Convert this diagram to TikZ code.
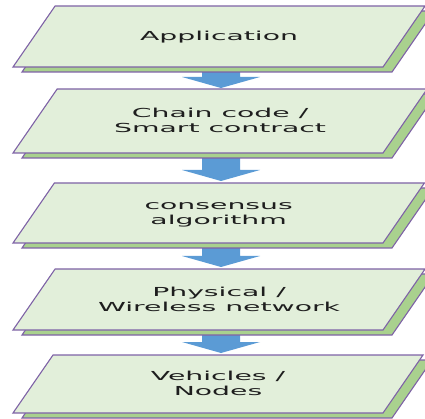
\documentclass[tikz,border=0pt]{standalone}
\usepackage{fontspec}
\setmainfont{DejaVu Sans}
\usepackage{graphicx}
\usetikzlibrary{calc}
\definecolor{facefill}{HTML}{E2EFDA}
\definecolor{edgepurple}{HTML}{7E62A6}
\definecolor{sidegreen}{HTML}{A9D18E}
\definecolor{arrowblue}{HTML}{5B9BD5}
\definecolor{txtgray}{HTML}{1E1E1E}
\tikzset{
  facebox/.style={draw=edgepurple, line width=1.1pt, fill=facefill, line join=miter},
  sidebox/.style={draw=edgepurple, line width=1.1pt, fill=sidegreen, line join=miter},
  blockarrow/.style={fill=arrowblue},
  lbl/.style={inner sep=0pt, text=txtgray}
}
\newcommand\stretchtext[1]{\scalebox{2.28}[1]{\fontsize{12.4}{15}\selectfont\begin{tabular}{@{}c@{}}#1\end{tabular}}}
% #1 name, #2 top y, #3 bottom y (image coordinates)
\newcommand\layerbox[3]{%
  \pgfmathsetmacro\lslant{0.69*(#3-#2)}%
  \draw[sidebox] (22,#3+5) -- (392,#3+5) -- (392+\lslant,#2+5) -- (22+\lslant,#2+5) -- cycle;
  \draw[facebox] (13,#3) -- (383,#3) -- (383+\lslant,#2) -- (13+\lslant,#2) -- cycle;
  \coordinate (#1) at (198+\lslant/2, {(#2+#3)/2});
}
% #1 start name, #2 end name
\newcommand\blockdown[2]{%
  \fill[blockarrow] ($(#1)+(-19,0)$) -- ($(#1)+(19,0)$) -- ($(#2)+(19,-11)$) -- ($(#2)+(39,-11)$)
     -- (#2) -- ($(#2)+(-39,-11)$) -- ($(#2)+(-19,-11)$) -- cycle;
}
\begin{document}
\begin{tikzpicture}[x=1pt,y=-1pt]
\useasboundingbox (0,0) rectangle (425,419);
\clip (0,0) rectangle (425,419);
% arrow end points
\coordinate (s1) at (221,70);  \coordinate (e1) at (221,88);
\coordinate (s2) at (221,156); \coordinate (e2) at (221,181);
\coordinate (s3) at (221,246); \coordinate (e3) at (221,267);
\coordinate (s4) at (221,333); \coordinate (e4) at (221,353);
\blockdown{s1}{e1}
\blockdown{s2}{e2}
\blockdown{s3}{e3}
\blockdown{s4}{e4}
\layerbox{c1}{6}{67}
\layerbox{c2}{89}{153}
\layerbox{c3}{183}{243}
\layerbox{c4}{269}{330}
\layerbox{c5}{355}{413}
\node[lbl] (t1) at ($(c1)+(0,1)$) {\stretchtext{Application}};
\node[lbl] (t2) at ($(c2)+(0,1)$) {\stretchtext{Chain code /\\Smart contract}};
\node[lbl] (t3) at ($(c3)+(0,1)$) {\stretchtext{consensus\\algorithm}};
\node[lbl] (t4) at ($(c4)+(0,1)$) {\stretchtext{Physical /\\Wireless network}};
\node[lbl] (t5) at ($(c5)+(0,1)$) {\stretchtext{Vehicles /\\Nodes}};
\end{tikzpicture}
\end{document}
